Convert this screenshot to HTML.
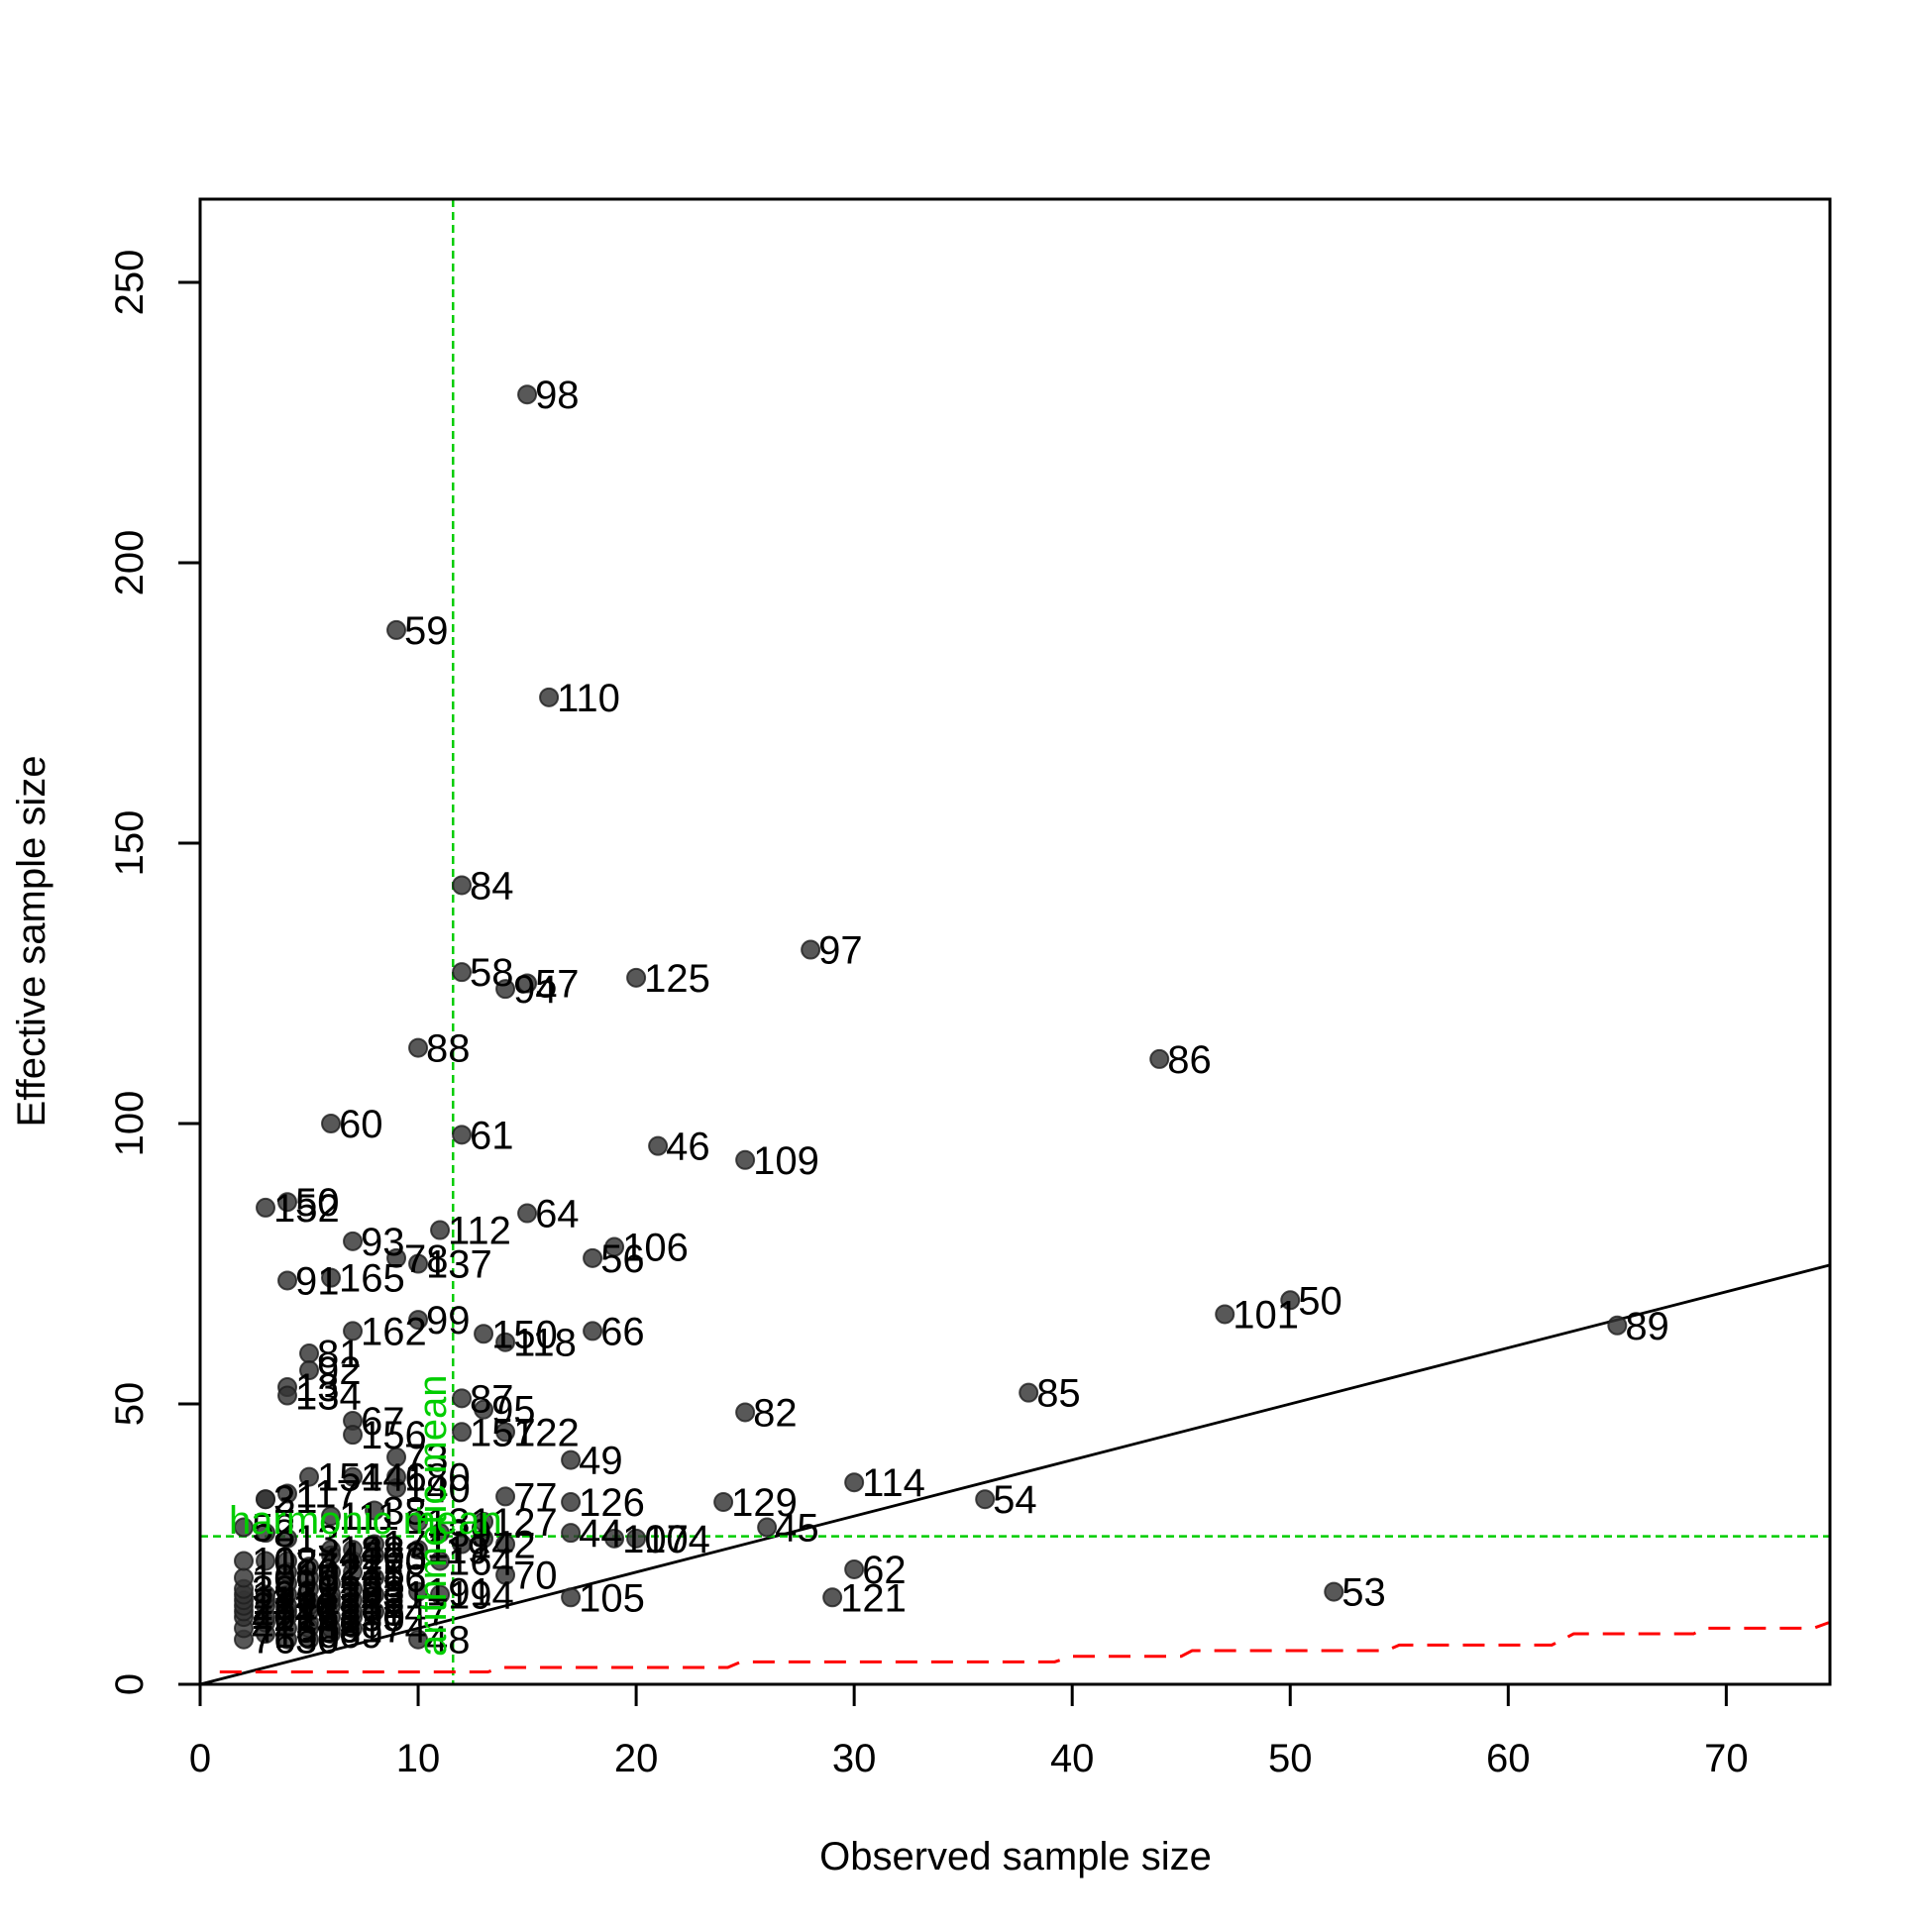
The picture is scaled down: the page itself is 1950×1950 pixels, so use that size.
<!DOCTYPE html>
<html><head><meta charset="utf-8"><style>
html,body{margin:0;padding:0;background:#fff}
svg{display:block;font-family:"Liberation Sans",Arial,sans-serif}
</style></head><body>
<svg id="chart" width="1950" height="1950" viewBox="0 0 1950 1950" xmlns="http://www.w3.org/2000/svg">
<rect x="0" y="0" width="1950" height="1950" fill="#fff"/>
<g id="grid-lines"></g>
<g id="points"></g>
<g id="labels" font-size="40"></g>
<rect x="202" y="201" width="1645" height="1499" fill="none" stroke="#000" stroke-width="3"/>
<g id="axes" font-size="40"></g>
<text x="1025" y="1887" font-size="40" text-anchor="middle">Observed sample size</text>
<text x="0" y="0" font-size="40" text-anchor="middle" transform="translate(45,950) rotate(-90)">Effective sample size</text>
</svg>
<script>
const xTicks = [0,10,20,30,40,50,60,70];
const yTicks = [0,50,100,150,200,250];
const obsX = [15,9,16,12,28,12,14,15,20,10,44,6,12,21,25,3,4,15,11,7,19,9,10,18,4,6,47,50,65,10,7,13,14,18,5,5,4,4,12,38,25,13,7,7,12,14,17,9,30,36,24,14,17,26,17,19,20,30,52,29,17,14,10,11,10,
2,2,2,2,2,2,2,2,2,2,2,3,3,3,3,3,3,3,3,3,3,4,4,4,4,4,4,4,4,4,4,4,5,5,5,5,5,5,5,5,5,5,6,6,6,6,6,6,6,6,6,6,6,7,7,7,7,7,7,7,7,7,8,8,8,8,8,8,9,9,10,10,11,11,12,13,13,14];
const effY = [230,188,176,142.5,131,127,124,125,126,113.5,111.5,100,98,96,93.5,85,86,84,81,79,78,76,75,76,72,72.5,66,68.5,64,65,63,62.5,61,63,59,56,53,51.5,51,52,48.5,49,47,44.5,45,45,40,40.5,36,33,32.5,33.5,32.5,28,27,26,26,20.5,16.5,15.5,15.5,19.5,16.5,16,8,
8,10,12,13,14,15,16,17,19,22,28,9,11,12,14,15,16,22,27,33,33,8,10,12,13,14,16,18,20,22,26,34,37,8,10,11,13,14,15,17,19,21,24,9,10,12,14,15,16,18,20,23,30,37,10,12,13,15,17,20,22,24,31,13,16,19,23,25,35,37,24,29,22,27,25,29,26,25,36,23];
const ids = ["98","59","110","84","97","58","94","57","125","88","86","60","61","46","109","152","50","64","112","93","106","78","137","56","91","165","101","50","89","99","162","150","118","66","81","92","13","134","87","85","82","95","67","156","157","122","49","73","114","54","129","77","126","45","44","107","104","62","53","121","105","70","191","194","48",
"76","4","40","17","26","11","19","32","10","108","52","160","2","27","116","141","36","12","8","3","21","30","55","163","47","74","1","90","102","24","13","117","154","6","65","43","33","22","7","139","5","72","148","69","9","190","15","34","20","135","148","42","111","146","174","35","18","23","28","75","170","88","38","147","31","16","63","171","140","180","119","131","164","39","142","127"];
const harmonicMean = [26.4];
const arithmeticMean = [11.6];
const redX = [0.9,13.2,13.8,24.2,24.8,39.2,40,45,45.5,54.4,55,62,63,68.5,69,74,74.7];
const redY = [2.2,2.2,3,3,4,4,5,5,6,6,7,7,9,9,10,10,11];

const X0=202, X1=1847, Y0=1700, Y1=201;
const X = v => X0 + v*22.005;
const Y = v => Y0 - v*5.66;
const NS="http://www.w3.org/2000/svg";
function mk(tag, attrs, parent){const e=document.createElementNS(NS,tag);for(const k in attrs)e.setAttribute(k,attrs[k]);parent.appendChild(e);return e;}
const axes=document.getElementById('axes');
xTicks.forEach(t=>{
  const l=mk('line',{x1:X(t),x2:X(t),y1:Y0,y2:Y0+22,stroke:'#000','stroke-width':3},axes);
  
  
  const tx=mk('text',{x:X(t),y:1788,'text-anchor':'middle'},axes);tx.textContent=t;
  
  
});
yTicks.forEach(t=>{
  const l=mk('line',{x1:X0,x2:X0-22,y1:Y(t),y2:Y(t),stroke:'#000','stroke-width':3},axes);
  
  
  const tx=mk('text',{x:0,y:0,'text-anchor':'middle',transform:`translate(144,${Y(t)}) rotate(-90)`},axes);tx.textContent=t;
  
  
});
const g=document.getElementById('grid-lines');
const idl=mk('line',{x1:X(0),y1:Y(0),x2:X(74.75),y2:Y(74.75),stroke:'#000','stroke-width':2.8},g);


const hl=mk('line',{x1:X0,x2:X1,y1:Y(harmonicMean[0]),y2:Y(harmonicMean[0]),stroke:'#00cd00','stroke-width':2.5,'stroke-dasharray':'8 5'},g);


const vl=mk('line',{x1:X(arithmeticMean[0]),x2:X(arithmeticMean[0]),y1:Y1,y2:Y0,stroke:'#00cd00','stroke-width':2.5,'stroke-dasharray':'8 5'},g);


const rp=mk('polyline',{points:redX.map((x,i)=>X(x)+','+Y(redY[i])).join(' '),fill:'none',stroke:'#ff0000','stroke-width':3,'stroke-dasharray':'22 14'},g);


const pts=document.getElementById('points'), lab=document.getElementById('labels');
obsX.forEach((x,i)=>{
  const c=mk('circle',{cx:X(x),cy:Y(effY[i]),r:9,fill:'rgba(51,51,51,0.82)',stroke:'rgba(30,30,30,0.8)','stroke-width':2},pts);
  
  
  const t=mk('text',{x:X(x)+8,y:Y(effY[i])+14},lab);t.textContent=ids[i];
  
  
});
const ht=mk('text',{x:231,y:1548,'font-size':40,fill:'#00cd00'},lab);ht.textContent='harmonic mean';


const at=mk('text',{x:0,y:0,'font-size':40,fill:'#00cd00',transform:`translate(450,1672) rotate(-90)`},lab);at.textContent='arithmetic mean';


</script>
</body></html>
